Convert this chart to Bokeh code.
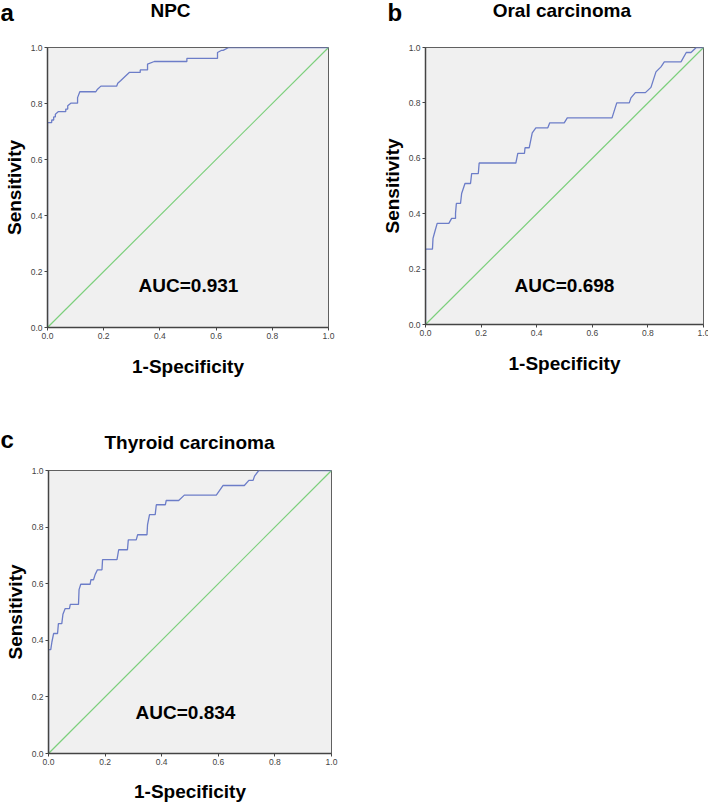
from bokeh.plotting import figure
from bokeh.layouts import column, row
from bokeh.models import Range1d, FixedTicker, PrintfTickFormatter, Label
from bokeh.core.properties import value
from bokeh.embed import file_html
from bokeh.resources import INLINE

# ---------------- data ----------------
tick_values = [0.0, 0.2, 0.4, 0.6, 0.8, 1.0]

npc_fpr = [0.0, 0.0, 0.015, 0.015, 0.022, 0.022, 0.028, 0.028, 0.039, 0.065, 0.065, 0.072, 0.072,
           0.083, 0.107, 0.107, 0.115, 0.172, 0.178, 0.190, 0.246, 0.250, 0.260, 0.291, 0.330,
           0.330, 0.356, 0.356, 0.380, 0.496, 0.496, 0.605, 0.605, 0.620, 0.625, 0.645, 1.0]
npc_tpr = [0.0, 0.732, 0.732, 0.741, 0.741, 0.752, 0.752, 0.762, 0.771, 0.771, 0.780, 0.780, 0.792,
           0.801, 0.801, 0.821, 0.842, 0.842, 0.851, 0.862, 0.862, 0.872, 0.881, 0.911, 0.911,
           0.920, 0.920, 0.941, 0.950, 0.950, 0.961, 0.961, 0.982, 0.990, 0.990, 1.0, 1.0]

oral_fpr = [0.0, 0.0, 0.025, 0.027, 0.033, 0.042, 0.084, 0.094, 0.108, 0.108, 0.111, 0.126, 0.130,
            0.142, 0.162, 0.166, 0.190, 0.193, 0.325, 0.332, 0.356, 0.358, 0.373, 0.384, 0.397,
            0.440, 0.447, 0.499, 0.510, 0.671, 0.688, 0.733, 0.739, 0.755, 0.791, 0.811, 0.829,
            0.847, 0.859, 0.919, 0.938, 0.955, 0.974, 1.0]
oral_tpr = [0.0, 0.272, 0.272, 0.311, 0.333, 0.365, 0.365, 0.383, 0.383, 0.401, 0.437, 0.437, 0.473,
            0.509, 0.509, 0.545, 0.545, 0.583, 0.583, 0.618, 0.618, 0.638, 0.638, 0.692, 0.710,
            0.710, 0.728, 0.728, 0.746, 0.746, 0.800, 0.800, 0.818, 0.837, 0.837, 0.856, 0.912,
            0.930, 0.948, 0.948, 0.982, 0.982, 1.0, 1.0]

thy_fpr = [0.0, 0.0, 0.008, 0.012, 0.018, 0.032, 0.035, 0.047, 0.051, 0.059, 0.074, 0.077, 0.106,
           0.108, 0.114, 0.147, 0.150, 0.159, 0.165, 0.173, 0.189, 0.191, 0.242, 0.248, 0.279,
           0.282, 0.310, 0.315, 0.348, 0.350, 0.357, 0.377, 0.381, 0.413, 0.416, 0.460, 0.480,
           0.593, 0.617, 0.692, 0.708, 0.723, 0.728, 0.743, 1.0]
thy_tpr = [0.0, 0.367, 0.367, 0.394, 0.424, 0.424, 0.459, 0.459, 0.492, 0.512, 0.512, 0.527, 0.527,
           0.579, 0.598, 0.598, 0.614, 0.614, 0.633, 0.649, 0.649, 0.685, 0.685, 0.720, 0.720,
           0.755, 0.755, 0.773, 0.773, 0.809, 0.844, 0.844, 0.879, 0.879, 0.894, 0.894, 0.913,
           0.913, 0.947, 0.947, 0.965, 0.965, 0.980, 1.0, 1.0]

ref_line = [0.0, 1.0]

panel_letters = ["a", "b", "c"]
panel_titles = ["NPC", "Oral  carcinoma", "Thyroid carcinoma"]
auc_texts = ["AUC=0.931", "AUC=0.698", "AUC=0.834"]
x_title = "1-Specificity"
y_title = "Sensitivity"

FONT = "Liberation Sans"
BLUE = "#6c7dc8"
GREEN = "#7ccf7c"
PAGE_W = 708
BASE_SHIFT = 8  # observed downward shift of bold 19px text with alphabetic baseline


def make_panel(fpr, tpr, canvas_x, canvas_y, width, height, frame, auc, auc_pos, xlab_standoff):
    # frame: (left, top, width, height) in page pixels
    fl, ft, fw, fh = frame
    left = fl - canvas_x
    top = ft - canvas_y
    p = figure(frame_width=fw, frame_height=fh, output_backend="svg", toolbar_location=None,
               x_range=Range1d(0, 1), y_range=Range1d(0, 1), title=None,
               min_border_left=left, min_border_top=top,
               min_border_right=width - left - fw, min_border_bottom=height - top - fh)
    p.background_fill_color = "#f0f0f0"
    p.border_fill_color = "white"
    p.outline_line_color = "#606060"
    p.outline_line_width = 1
    p.grid.visible = False
    for ax in (p.xaxis[0], p.yaxis[0]):
        ax.ticker = FixedTicker(ticks=tick_values)
        ax.formatter = PrintfTickFormatter(format="%.1f")
        ax.minor_tick_line_color = None
        ax.major_tick_in = 0
        ax.major_tick_out = 3
        ax.major_tick_line_color = "#444444"
        ax.axis_line_color = "#444444"
        ax.axis_line_width = 1.5
        ax.major_label_text_font = FONT
        ax.major_label_text_font_size = "8.5px"
        ax.major_label_text_color = "#444444"
        ax.major_label_standoff = 2
        ax.axis_label_text_font = FONT
        ax.axis_label_text_font_size = "19px"
        ax.axis_label_text_font_style = "bold"
        ax.axis_label_text_color = "black"
    p.xaxis[0].axis_label = x_title
    p.xaxis[0].axis_label_standoff = xlab_standoff
    p.yaxis[0].axis_label = y_title
    p.yaxis[0].axis_label_standoff = 3

    p.line(ref_line, ref_line, line_color=GREEN, line_width=1.2)
    p.line(fpr, tpr, line_color=BLUE, line_width=1.3)

    p.add_layout(Label(x=auc_pos[0] - canvas_x, y=auc_pos[1] - canvas_y - BASE_SHIFT,
                       x_units="canvas", y_units="canvas", text=auc,
                       text_font=FONT, text_font_size="19px", text_font_style="bold",
                       text_align="center", text_baseline="alphabetic", text_color="black"))
    return p


def make_strip(height, letters, letter_x, letter_y, titles, title_x, title_y):
    s = figure(frame_width=PAGE_W, frame_height=height, output_backend="svg",
               toolbar_location=None, x_range=Range1d(0, PAGE_W), y_range=Range1d(height, 0),
               title=None, x_axis_type=None, y_axis_type=None,
               min_border_left=0, min_border_right=0, min_border_top=0, min_border_bottom=0)
    s.outline_line_color = None
    s.background_fill_color = "white"
    s.border_fill_color = "white"
    s.grid.visible = False
    s.text(x=letter_x, y=letter_y, text=letters,
           text_font=value(FONT), text_font_size="24px", text_font_style="bold",
           text_align="left", text_baseline="alphabetic", text_color="black")
    s.text(x=title_x, y=title_y, text=titles,
           text_font=value(FONT), text_font_size="19px", text_font_style="bold",
           text_align="center", text_baseline="alphabetic", text_color="black")
    return s


# top strip: page y 0..30
top_strip = make_strip(30, panel_letters[:2], [0, 387], [12, 12],
                       panel_titles[:2], [170, 564], [10, 10])

fa = make_panel(npc_fpr, npc_tpr, 0, 30, 363, 390, (45, 47, 281, 280),
                auc_texts[0], (188, 293), 14)
fb = make_panel(oral_fpr, oral_tpr, 363, 30, 345, 390, (423, 47, 278, 277),
                auc_texts[1], (562, 293), 14)

# middle strip: page y 420..455
mid_strip = make_strip(35, panel_letters[2:], [0], [19],
                       panel_titles[2:], [189], [22])

fc = make_panel(thy_fpr, thy_tpr, 0, 455, 363, 347, (48, 470, 283, 283),
                auc_texts[2], (185, 720), 13)

layout = column(row(top_strip), row(fa, fb), row(mid_strip), row(fc))
open("out.html", "w").write(file_html(layout, INLINE))
